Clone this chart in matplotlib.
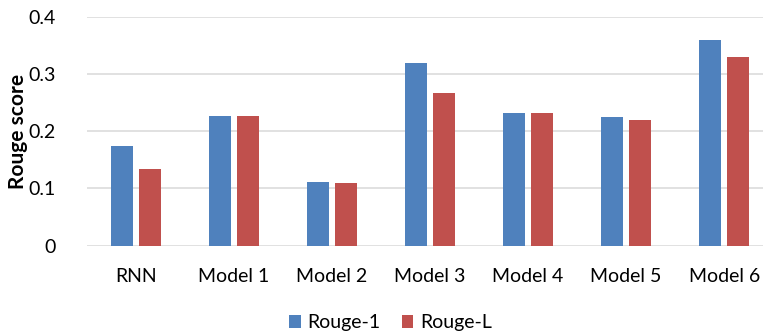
import matplotlib
matplotlib.use("Agg")
import matplotlib.pyplot as plt
import numpy as np

categories = ["RNN", "Model 1", "Model 2", "Model 3", "Model 4", "Model 5", "Model 6"]
rouge_1 = [0.174, 0.227, 0.111, 0.319, 0.232, 0.224, 0.360]
rouge_l = [0.133, 0.227, 0.110, 0.266, 0.232, 0.219, 0.330]
y_ticks = [0, 0.1, 0.2, 0.3, 0.4]
y_tick_labels = ["0", "0.1", "0.2", "0.3", "0.4"]

plt.rcParams["font.family"] = ["Lato", "DejaVu Sans"]

blue = "#4F81BD"
red = "#C0504D"

fig = plt.figure(figsize=(7.63, 3.36), dpi=100)
ax = fig.add_axes([0.1135, 0.2693, 0.9, 0.681])

x = np.arange(len(categories))
w = 0.224
off = 0.143
ax.bar(x - off, rouge_1, width=w, color=blue, label="Rouge-1", zorder=3)
ax.bar(x + off, rouge_l, width=w, color=red, label="Rouge-L", zorder=3)

ax.set_xlim(-0.5, len(categories) - 0.5)
ax.set_ylim(0, 0.4)
ax.set_yticks(y_ticks)
ax.set_yticklabels(y_tick_labels)
ax.set_xticks(x)
ax.set_xticklabels(categories)
ax.tick_params(axis="both", length=0, labelsize=14, colors="#000000")
ax.tick_params(axis="y", pad=22)
ax.tick_params(axis="x", pad=16)

ax.grid(axis="y", color="#D9D9D9", linewidth=1.1, zorder=0)
for s in ["top", "right", "left", "bottom"]:
    ax.spines[s].set_visible(False)

ax.set_ylabel("Rouge score", fontsize=15, fontweight="bold")
ax.yaxis.set_label_coords(-0.0853, 0.5)

fig.legend(loc="center", bbox_to_anchor=(0.512, 0.039), ncol=2, frameon=False,
           fontsize=14, handlelength=0.6, handleheight=0.6, handletextpad=0.36,
           columnspacing=1.08)

fig.savefig("out.png", dpi=100)
